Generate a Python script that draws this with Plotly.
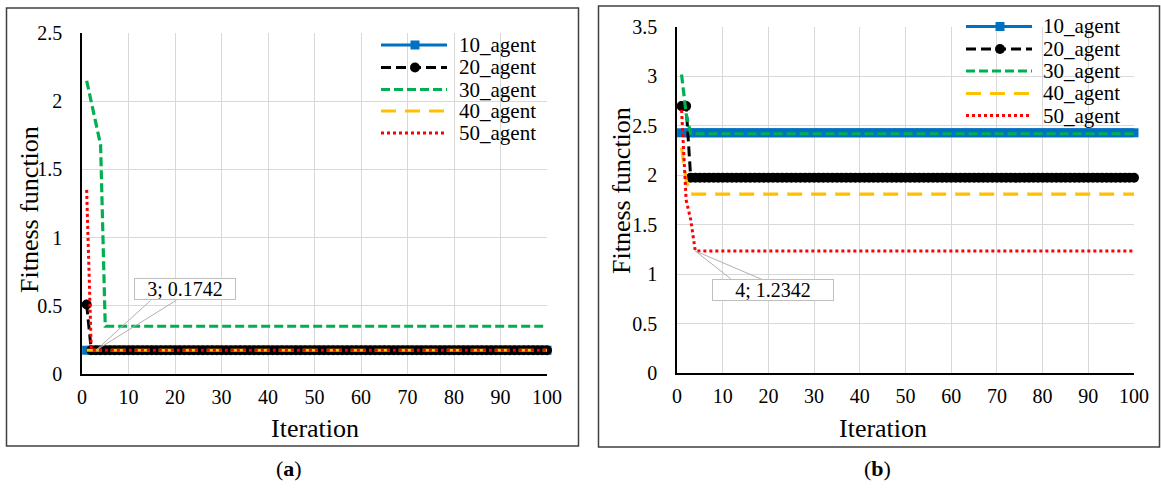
import plotly.graph_objects as go

W, H = 1161, 488
FONT = "Liberation Serif"

# ---- data -------------------------------------------------------------
iterations = list(range(1, 101))
series_names = ["10_agent", "20_agent", "30_agent", "40_agent", "50_agent"]

# panel (a)
a_10 = [0.1742] * 100
a_20 = [0.51] + [0.1742] * 99
a_30 = [2.15, 1.99, 1.83, 1.68] + [0.35] * 96
a_40 = [0.1742] * 100
a_50 = [1.35] + [0.1742] * 99

# panel (b)
b_10 = [2.43] * 100
b_20 = [2.70, 2.70] + [1.975] * 98
b_30 = [3.02, 2.62] + [2.42] * 98
b_40 = [2.28, 1.95] + [1.81] * 98
b_50 = [2.66, 1.75, 1.55] + [1.2342] * 97

a_ticks_y = [0, 0.5, 1, 1.5, 2, 2.5]
b_ticks_y = [0, 0.5, 1, 1.5, 2, 2.5, 3, 3.5]
x_ticks = list(range(0, 101, 10))

# callout labels: (iteration, value)
a_callout = (3, 0.1742)
b_callout = (4, 1.2342)

# ---- styles -----------------------------------------------------------
styles = [
    dict(color="#0070C0", dash="solid", width=3, symbol="square", size=9),
    dict(color="#000000", dash="10px,5px", width=3, symbol="circle", size=10),
    dict(color="#00B050", dash="9px,4px", width=3.2, symbol=None, size=0),
    dict(color="#FFC000", dash="15px,9px", width=3.2, symbol=None, size=0),
    dict(color="#FF0000", dash="3px,3px", width=3, symbol=None, size=0),
]


def px(x):
    return x / W


def py(y):
    return 1 - y / H


fig = go.Figure()

panels = [
    ("x", "y", [a_10, a_20, a_30, a_40, a_50]),
    ("x2", "y2", [b_10, b_20, b_30, b_40, b_50]),
]
for xa, ya, data in panels:
    for name, vals, st in zip(series_names, data, styles):
        mode = "lines+markers" if st["symbol"] else "lines"
        fig.add_trace(go.Scatter(
            x=iterations, y=vals, name=name, mode=mode,
            xaxis=xa, yaxis=ya, showlegend=False, cliponaxis=False,
            line=dict(color=st["color"], width=st["width"], dash=st["dash"]),
            marker=dict(symbol=st["symbol"] or "circle", size=st["size"],
                        color=st["color"], line=dict(width=0)),
            hoverinfo="skip",
        ))

axis_common = dict(
    showgrid=True, gridcolor="#d9d9d9", gridwidth=1,
    showline=True, linecolor="#000000", linewidth=1.5,
    zeroline=False, ticks="", automargin=False,
    tickfont=dict(family=FONT, size=20, color="#000000"),
)

fig.update_layout(
    width=W, height=H, autosize=False,
    margin=dict(l=0, r=0, t=0, b=0, pad=0, autoexpand=False),
    paper_bgcolor="white", plot_bgcolor="white",
    showlegend=False,
    xaxis=dict(domain=[px(82), px(547)], range=[0, 100], tickvals=x_ticks,
               anchor="y", ticklabelstandoff=4, **axis_common),
    yaxis=dict(domain=[py(374), py(33)], range=[0, 2.5], tickvals=a_ticks_y,
               anchor="x", ticklabelstandoff=14, **axis_common),
    xaxis2=dict(domain=[px(677), px(1134)], range=[0, 100], tickvals=x_ticks,
                anchor="y2", ticklabelstandoff=4, **axis_common),
    yaxis2=dict(domain=[py(373), py(27)], range=[0, 3.5], tickvals=b_ticks_y,
                anchor="x2", ticklabelstandoff=14, **axis_common),
)

shapes = []
annotations = []

# panel frames
for x0, y0, x1, y1 in [(6.5, 8, 578.5, 446), (598.5, 6, 1159.5, 447)]:
    shapes.append(dict(type="rect", xref="paper", yref="paper",
                       x0=px(x0), x1=px(x1), y0=py(y1), y1=py(y0),
                       line=dict(color="#404040", width=1.5), layer="above"))

# axis titles
title_font = dict(family=FONT, size=26, color="#000000")
for x, y in [(315, 428), (883, 428)]:
    annotations.append(dict(text="Iteration", x=px(x), y=py(y), xref="paper",
                            yref="paper", showarrow=False, font=title_font,
                            xanchor="center", yanchor="middle"))
for x, y in [(29, 210), (621, 190)]:
    annotations.append(dict(text="Fitness function", x=px(x), y=py(y),
                            xref="paper", yref="paper", showarrow=False,
                            font=title_font, textangle=-90,
                            xanchor="center", yanchor="middle"))

# panel labels
for lab, x in [("a", 289), ("b", 877)]:
    annotations.append(dict(text="(<b>%s</b>)" % lab, x=px(x), y=py(468),
                            xref="paper", yref="paper", showarrow=False,
                            font=dict(family=FONT, size=22, color="#000000"),
                            xanchor="center", yanchor="middle"))

# hand-drawn legends
legend_layouts = [
    dict(rows=[45, 67.5, 89.5, 111, 133], x0=381, x1=447, mx=415, tx=457),
    dict(rows=[26.5, 49, 71, 93.5, 115.5], x0=966, x1=1032, mx=1000, tx=1041),
]
for lg in legend_layouts:
    for name, st, ry in zip(series_names, styles, lg["rows"]):
        shapes.append(dict(type="line", xref="paper", yref="paper",
                           x0=px(lg["x0"]), x1=px(lg["x1"]), y0=py(ry), y1=py(ry),
                           line=dict(color=st["color"], width=st["width"],
                                     dash=st["dash"])))
        if st["symbol"]:
            r = st["size"] / 2
            shapes.append(dict(type="rect" if st["symbol"] == "square" else "circle",
                               xref="paper", yref="paper",
                               x0=px(lg["mx"] - r), x1=px(lg["mx"] + r),
                               y0=py(ry + r), y1=py(ry - r),
                               fillcolor=st["color"], line=dict(width=0)))
        annotations.append(dict(text=name, x=px(lg["tx"]), y=py(ry), xref="paper",
                                yref="paper", showarrow=False,
                                font=dict(family=FONT, size=21, color="#000000"),
                                xanchor="left", yanchor="middle"))

# data callouts with wedge leaders
callouts = [
    dict(pt=a_callout, xr="x", yr="y", text="%d; %.4f" % a_callout,
         shift=(89, 61), size=(100, 20), legs=[(56, -51), (82, -51)]),
    dict(pt=b_callout, xr="x2", yr="y2", text="%d; %.4f" % b_callout,
         shift=(78, -39), size=(120, 20), legs=[(37, 29), (68, 29)]),
]
for c in callouts:
    for ax, ay in c["legs"]:
        annotations.append(dict(text="", x=c["pt"][0], y=c["pt"][1],
                                xref=c["xr"], yref=c["yr"], showarrow=True,
                                ax=ax, ay=ay, arrowhead=0, arrowwidth=1,
                                arrowcolor="#b0b0b0", standoff=0))
    annotations.append(dict(text=c["text"], x=c["pt"][0], y=c["pt"][1],
                            xref=c["xr"], yref=c["yr"], showarrow=False,
                            xshift=c["shift"][0], yshift=c["shift"][1],
                            width=c["size"][0], height=c["size"][1],
                            bgcolor="white", bordercolor="#bfbfbf", borderwidth=1,
                            borderpad=0,
                            font=dict(family=FONT, size=20, color="#000000")))

fig.update_layout(shapes=shapes, annotations=annotations)
fig.write_html("out.html")
